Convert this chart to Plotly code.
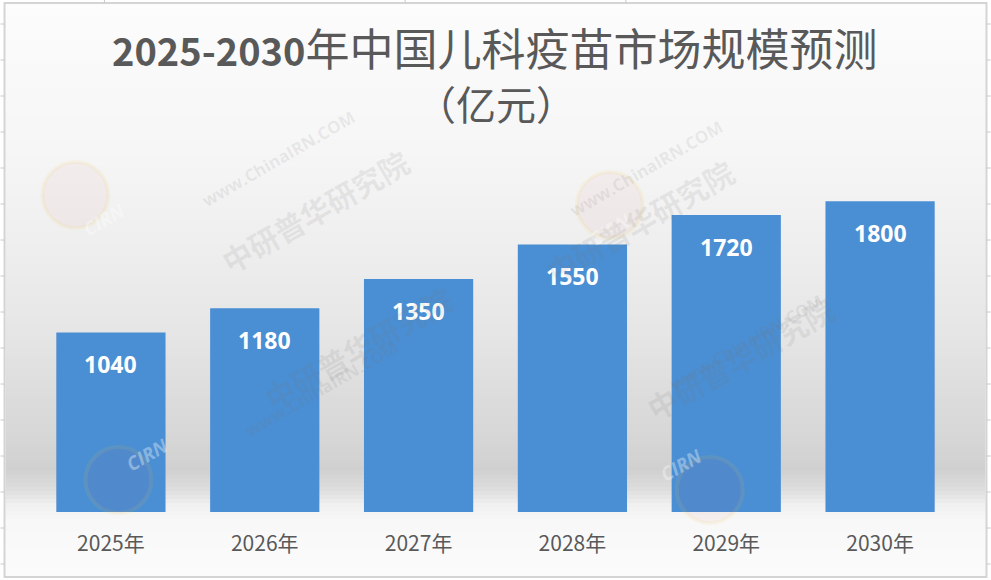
import plotly.graph_objects as go

years = ["2025年", "2026年", "2027年", "2028年", "2029年", "2030年"]
values = [1040, 1180, 1350, 1550, 1720, 1800]
title_digits = "2025-2030"
title_rest = "年中国儿科疫苗市场规模预测"
title_line2 = "（亿元）"

W, H = 991, 580
ML, MR, MT, MB = 33.5, 33.5, 150, 68
PW, PH = W - ML - MR, H - MT - MB


def px_x(X):
    return (X - ML) / PW


def px_y(Y):
    return (H - MB - Y) / PH


fig = go.Figure()
fig.add_trace(go.Bar(
    x=years, y=values,
    marker=dict(color="#4a8ed3", line=dict(width=0)),
    hoverinfo="skip",
))

shapes = []
# background gradient (style only)
stops = [(3, 252), (150, 246), (250, 238), (330, 230), (390, 221), (440, 214),
         (470, 208), (490, 222), (505, 240), (520, 248), (577, 251)]


def gray_at(y):
    for (y0, g0), (y1, g1) in zip(stops[:-1], stops[1:]):
        if y0 <= y <= y1:
            t = (y - y0) / (y1 - y0)
            return g0 + (g1 - g0) * t
    return stops[-1][1]


step = 4
y = 3
while y < 577:
    y2 = min(y + step, 577)
    g = int(round(gray_at((y + y2) / 2)))
    shapes.append(dict(type="rect", xref="paper", yref="paper", layer="below",
                       x0=px_x(5), x1=px_x(986), y0=px_y(y2), y1=px_y(y),
                       fillcolor=f"rgb({g},{g},{g})", line=dict(width=0)))
    y = y2

# chart border
shapes.append(dict(type="rect", xref="paper", yref="paper", layer="above",
                   x0=px_x(4), x1=px_x(987), y0=px_y(577), y1=px_y(3),
                   line=dict(color="#d4d4d4", width=2), fillcolor="rgba(0,0,0,0)"))
# spreadsheet grid stubs outside chart
for k in range(16):
    yy = 24 + 36 * k
    for xa, xb in ((0, 4), (987, 991)):
        shapes.append(dict(type="line", xref="paper", yref="paper", layer="above",
                           x0=px_x(xa), x1=px_x(xb), y0=px_y(yy), y1=px_y(yy),
                           line=dict(color="#c8c8c8", width=1)))
for xx in (104, 405, 626):
    shapes.append(dict(type="line", xref="paper", yref="paper", layer="above",
                       x0=px_x(xx), x1=px_x(xx), y0=px_y(0), y1=px_y(3),
                       line=dict(color="#c8c8c8", width=1)))

annotations = []
# data labels
for yr, v in zip(years, values):
    annotations.append(dict(x=yr, y=v, xref="x", yref="y", text=f"<b>{v}</b>",
                            showarrow=False, yanchor="middle", yshift=-32,
                            font=dict(family="Noto Sans, Open Sans, sans-serif",
                                      size=23, color="white")))

# title
annotations.append(dict(xref="paper", yref="paper", x=px_x(494), y=px_y(47),
                        text=f"<span style='font-size:38px'><b>{title_digits}</b></span>{title_rest}",
                        showarrow=False, xanchor="center", yanchor="middle",
                        font=dict(family="Noto Sans CJK SC", size=44, color="#595959")))
annotations.append(dict(xref="paper", yref="paper", x=px_x(496), y=px_y(103),
                        text=title_line2, showarrow=False, xanchor="center", yanchor="middle",
                        font=dict(family="Noto Sans CJK SC", size=40, color="#595959")))

# faint watermarks (logo centre positions)
wm = [(75, 195), (610, 205), (118, 480), (710, 490)]
for lx, ly in wm:
    shapes.append(dict(type="circle", xref="paper", yref="paper", layer="above",
                       x0=px_x(lx - 33), x1=px_x(lx + 33), y0=px_y(ly + 33), y1=px_y(ly - 33),
                       fillcolor="rgba(220,70,70,0.05)",
                       line=dict(color="rgba(240,210,80,0.10)", width=4)))
    annotations.append(dict(xref="paper", yref="paper", x=px_x(lx), y=px_y(ly),
                            text="<b><i>CIRN</i></b>", showarrow=False, textangle=-30,
                            font=dict(family="Open Sans", size=19, color="rgba(255,255,255,0.35)")))
    annotations.append(dict(xref="paper", yref="paper", x=px_x(lx + 120), y=px_y(ly - 92),
                            text="<b>www.ChinaIRN.COM</b>", showarrow=False, textangle=-30,
                            font=dict(family="Open Sans", size=17, color="rgba(120,120,120,0.12)")))
    annotations.append(dict(xref="paper", yref="paper", x=px_x(lx + 135), y=px_y(ly - 58),
                            text="<b>中研普华研究院</b>", showarrow=False, textangle=-30,
                            font=dict(family="Noto Sans CJK SC", size=30, color="rgba(120,120,120,0.12)")))

fig.update_layout(
    width=W, height=H,
    margin=dict(l=ML, r=MR, t=MT, b=MB, pad=0),
    paper_bgcolor="white", plot_bgcolor="rgba(0,0,0,0)",
    showlegend=False, bargap=0.29,
    shapes=shapes, annotations=annotations,
    xaxis=dict(showgrid=False, zeroline=False, showline=False, ticks="",
               range=[-0.5, 5.5], ticklabelstandoff=17,
               tickfont=dict(family="Noto Sans CJK SC", size=21, color="#595959")),
    yaxis=dict(range=[0, 2097], showgrid=False, zeroline=False, showline=False,
               showticklabels=False, ticks=""),
)

fig.write_html("out.html", config={"displayModeBar": False},
               post_script="document.body.style.margin='0px';")
